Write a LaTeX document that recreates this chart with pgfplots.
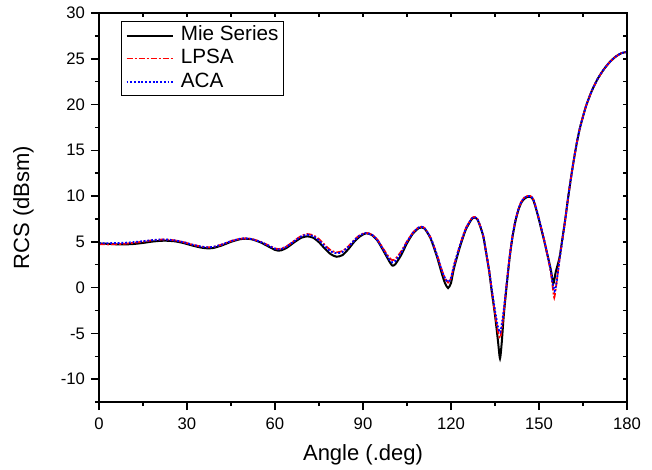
\documentclass[border=0pt]{standalone}
\usepackage{fontspec}
\setmainfont{Liberation Sans}
\usepackage{pgfplots}
\pgfplotsset{compat=1.18}
\usepackage{pgfplotstable}

\pgfplotstableread{
x y
0 4.83
3 4.78
6 4.73
9 4.72
12 4.77
15 4.88
18 5.02
21 5.11
23 5.12
26 5.05
29 4.85
32 4.58
35 4.36
37 4.29
39 4.33
42 4.62
45 5.00
48 5.28
50 5.34
52 5.28
55 4.95
58 4.45
60 4.12
61 4.04
62 4.06
64 4.35
67 5.05
69 5.45
71 5.60
73 5.45
75 4.95
77 4.25
79 3.65
81 3.37
83 3.55
85 4.20
87 5.00
89 5.60
91 5.93
93 5.75
95 5.10
97 4.00
99 2.85
100 2.40
101 2.55
103 3.55
105 4.85
107 5.90
109 6.50
110 6.58
111 6.45
113 5.40
115 3.60
117 1.40
118 0.45
119 -0.05
120 0.50
121 2.10
123 4.40
125 6.30
127 7.45
128 7.65
129 7.45
130 6.65
131 5.60
132 3.75
133 1.80
134 -0.70
135 -3.00
136 -5.80
136.7 -7.75
137.3 -6.00
138 -3.00
139 0.30
140 3.30
141 5.60
142 7.30
143 8.50
144 9.30
145 9.70
146 9.90
147 9.93
148 9.60
149 8.60
150 7.40
151 6.10
152 4.80
153 3.40
154 2.00
154.9 0.45
155.7 1.70
157 3.30
158 5.40
159 7.60
160 10.00
161 12.20
162 14.20
163 16.00
164 17.50
166 19.80
168 21.50
170 22.80
172 23.80
174 24.60
176 25.20
178 25.60
180 25.75
}\mie

\pgfplotstableread{
x y
0 4.75
3 4.72
6 4.74
9 4.80
12 4.90
15 5.02
18 5.16
21 5.24
23 5.25
26 5.15
29 4.95
32 4.68
35 4.47
37 4.40
39 4.45
42 4.72
45 5.08
48 5.33
50 5.38
52 5.32
55 5.02
58 4.58
60 4.28
61 4.22
62 4.24
64 4.52
67 5.22
69 5.65
71 5.85
73 5.72
75 5.30
77 4.65
79 4.08
81 3.85
83 4.00
85 4.50
87 5.20
89 5.75
91 5.98
93 5.80
95 5.20
97 4.20
99 3.25
100 3.00
101 3.12
103 3.95
105 5.05
107 6.00
109 6.60
110 6.65
111 6.50
113 5.50
115 3.80
117 1.80
118 1.00
119 0.55
120 1.00
121 2.40
123 4.60
125 6.45
127 7.55
128 7.72
129 7.50
130 6.70
131 5.65
132 3.80
133 1.90
134 -0.50
135 -2.80
136 -4.80
136.8 -5.50
137.5 -4.00
138 -2.60
139 0.50
140 3.40
141 5.70
142 7.40
143 8.60
144 9.40
145 9.85
146 10.00
147 10.02
148 9.70
149 8.70
150 7.50
151 6.20
152 4.85
153 3.35
154 1.70
154.7 0.00
155.2 -1.10
155.8 0.10
156.5 1.80
157 3.10
158 5.30
159 7.55
160 10.00
161 12.20
162 14.20
163 16.00
164 17.50
166 19.80
168 21.50
170 22.80
172 23.80
174 24.60
176 25.20
178 25.60
180 25.75
}\lpsa

\pgfplotstableread{
x y
0 4.85
3 4.85
6 4.86
9 4.90
12 4.97
15 5.07
18 5.18
21 5.25
23 5.25
26 5.15
29 4.95
32 4.68
35 4.47
37 4.40
39 4.45
42 4.72
45 5.08
48 5.33
50 5.38
52 5.30
55 5.00
58 4.55
60 4.25
61 4.18
62 4.20
64 4.48
67 5.18
69 5.60
71 5.78
73 5.62
75 5.15
77 4.50
79 3.95
81 3.75
83 3.90
85 4.45
87 5.15
89 5.72
91 5.96
93 5.78
95 5.15
97 4.10
99 3.05
100 2.75
101 2.90
103 3.80
105 5.00
107 5.98
109 6.58
110 6.63
111 6.48
113 5.48
115 3.75
117 1.75
118 1.00
119 0.62
120 1.05
121 2.40
123 4.55
125 6.42
127 7.52
128 7.70
129 7.48
130 6.70
131 5.65
132 3.80
133 1.90
134 -0.40
135 -2.50
136 -4.30
136.8 -4.90
137.5 -3.60
138 -2.40
139 0.50
140 3.40
141 5.70
142 7.40
143 8.60
144 9.40
145 9.80
146 9.98
147 10.00
148 9.70
149 8.70
150 7.50
151 6.20
152 4.85
153 3.40
154 1.90
154.8 0.20
155.3 -0.40
155.9 0.40
156.5 1.80
157 3.10
158 5.30
159 7.55
160 10.00
161 12.20
162 14.20
163 16.00
164 17.50
166 19.80
168 21.50
170 22.80
172 23.80
174 24.60
176 25.20
178 25.60
180 25.75
}\aca

\begin{document}
\begin{tikzpicture}
\pgfplotsset{
  common/.style={
    scale only axis,
    width=396pt, height=291.75pt,
    at={(0,0)}, anchor=south west,
    xmin=0, xmax=180, ymin=-12.5, ymax=30,
    xtick distance=30, ytick distance=5,
    minor x tick num=1, minor y tick num=1,
    axis line style={line width=1.1pt},
    every tick/.style={line width=1.1pt, black},
    every minor tick/.style={line width=1.1pt, black},
  }
}
\begin{axis}[common,
    tick align=outside,
    xtick pos=bottom, ytick pos=left,
    major tick length=6pt, minor tick length=3pt,
    /pgf/number format/assume math mode=true,
    ticklabel style={font=\fontsize{12.5}{15}\selectfont},
    xticklabel style={yshift=-2pt},
    yticklabel style={xshift=-1pt},
    xlabel={Angle (.deg)}, ylabel={RCS (dBsm)},
    label style={font=\fontsize{16.5}{20}\selectfont},
    xlabel style={at={(axis description cs:0.5,0)}, anchor=north, inner sep=0pt, yshift=-31.5pt},
    ylabel style={at={(axis description cs:0,0.5)}, anchor=south, inner sep=0pt, yshift=48.75pt},
    legend style={at={(rel axis cs:0.0417,0.9794)}, anchor=north west,
      draw=black, line width=0.8pt, inner xsep=3pt, inner ysep=2pt,
      font=\fontsize{15.5}{18}\selectfont, row sep=0.3pt, column sep=4pt,
      nodes={inner sep=1pt, text height=11.5pt, text depth=3.5pt}},
    legend cell align=left,
    legend image code/.code={\draw[#1] (0pt,0pt) -- (35pt,0pt);},
  ]
\addplot[black, line width=1.5pt, smooth, tension=0.4] table {\mie};
\addlegendentry{Mie Series}
\addplot[red, line width=1.3pt, dash pattern=on 4.5pt off 1.5pt on 1.5pt off 1.5pt, smooth, tension=0.4] table {\lpsa};
\addlegendentry{LPSA}
\addplot[blue, line width=1.4pt, dash pattern=on 1.4pt off 1.4pt, smooth, tension=0.4] table {\aca};
\addlegendentry{ACA}
\end{axis}
\begin{axis}[common,
    tick align=inside,
    xtick pos=top, ytick pos=right,
    major tick length=3pt, minor tick length=3pt,
    xticklabels={}, yticklabels={},
  ]
\end{axis}
\pgfresetboundingbox
\path (-74.25pt,-50.25pt) rectangle (414.75pt,301.5pt);
\end{tikzpicture}
\end{document}
